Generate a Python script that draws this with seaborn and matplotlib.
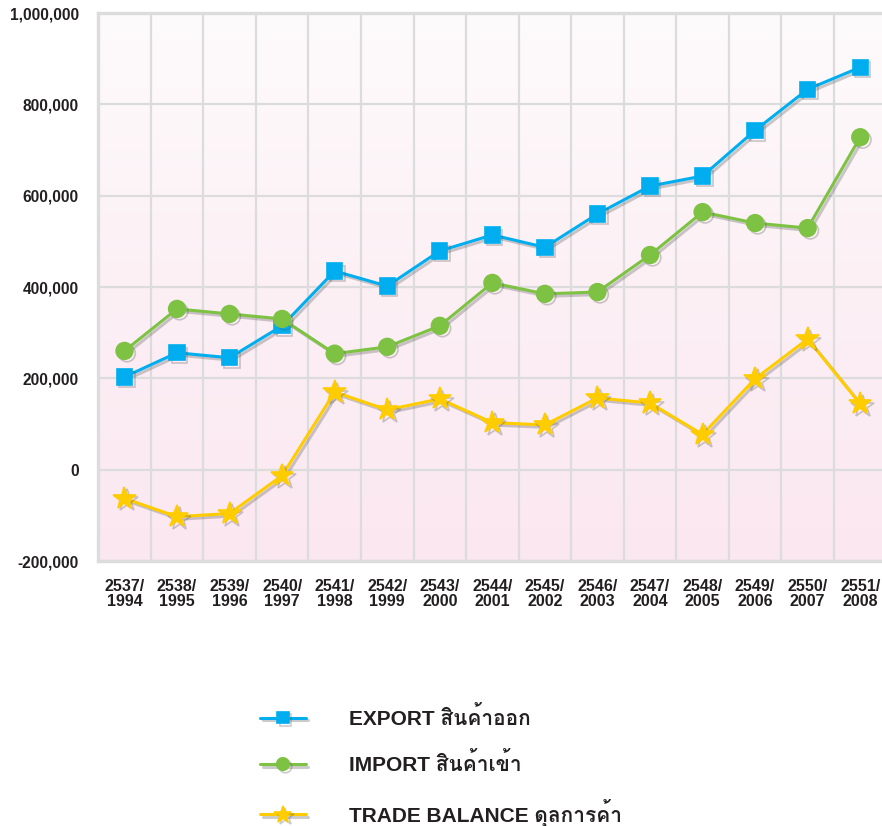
import numpy as np
import pandas as pd
import matplotlib
matplotlib.use("Agg")
import matplotlib.pyplot as plt
import matplotlib.patheffects as pe
from matplotlib import font_manager, ft2font
from matplotlib.colors import LinearSegmentedColormap
from matplotlib.ticker import FixedLocator, FuncFormatter
import seaborn as sns

# ---------------- data ----------------
years_be = ["2537", "2538", "2539", "2540", "2541", "2542", "2543", "2544",
            "2545", "2546", "2547", "2548", "2549", "2550", "2551"]
years_ce = ["1994", "1995", "1996", "1997", "1998", "1999", "2000", "2001",
            "2002", "2003", "2004", "2005", "2006", "2007", "2008"]
export_vals = [203000, 256000, 245000, 315000, 435000, 402000, 479000, 514000,
               487000, 560000, 621000, 643000, 743000, 833000, 881000]
import_vals = [260000, 352000, 341000, 330000, 254000, 269000, 315000, 409000,
               385000, 389000, 470000, 564000, 540000, 529000, 728000]
balance_vals = [-63000, -103000, -96000, -13000, 170000, 131000, 155000, 103000,
                98000, 157000, 146000, 77000, 199000, 286000, 144000]
series_labels = ["EXPORT สินค้าออก", "IMPORT สินค้าเข้า", "TRADE BALANCE ดุลการค้า"]
y_ticks = [-200000, 0, 200000, 400000, 600000, 800000, 1000000]

# ---------------- fonts ----------------
sns.set_theme(style="white")
thai_fams = []
for f in font_manager.fontManager.ttflist:
    try:
        cm = ft2font.FT2Font(f.fname).get_charmap()
        if 0x0E2A in cm and 0x0E49 in cm and 0x0E14 in cm:
            if f.name not in thai_fams:
                thai_fams.append(f.name)
    except Exception:
        pass
plt.rcParams["font.family"] = ["Liberation Sans"] + thai_fams + ["DejaVu Sans"]
plt.rcParams["font.weight"] = "bold"

text_color = "#231f20"
grid_color = "#dcdcdc"

fig = plt.figure(figsize=(8.82, 8.26), dpi=100)
ax = fig.add_axes([98.2 / 882, 1 - 561 / 826, 788.3 / 882, 548 / 826])

# background gradient
bg = LinearSegmentedColormap.from_list("bg", ["#fefbfc", "#fcf0f5", "#fbe7f0"])
ax.imshow(np.linspace(0, 1, 256).reshape(-1, 1), cmap=bg, extent=[0, 1, 0, 1],
          transform=ax.transAxes, aspect="auto", zorder=0)

df = pd.DataFrame({
    "x": np.arange(len(years_be)),
    "export": export_vals,
    "import": import_vals,
    "balance": balance_vals,
})

styles = [
    ("export", "#00aeef", "s", 11, series_labels[0]),
    ("import", "#7dc242", "o", 12, series_labels[1]),
    ("balance", "#ffcc00", "*", 17, series_labels[2]),
]
shadow = [pe.SimpleLineShadow(offset=(1.8, -1.8), shadow_color="#555555", alpha=0.3),
          pe.Normal()]
for col, color, marker, ms, label in styles:
    sns.lineplot(data=df, x="x", y=col, ax=ax, color=color, marker=marker,
                 markersize=ms, markeredgecolor=color, markeredgewidth=1.2,
                 linewidth=2.2, label=label, zorder=3)

for line in ax.get_lines():
    line.set_path_effects(shadow)

ax.set_xlim(-0.5, len(years_be) - 0.5)
ax.set_ylim(-200000, 1000000)

ax.xaxis.set_major_locator(FixedLocator(np.arange(len(years_be))))
ax.set_xticklabels([f"{a}/\n{b}" for a, b in zip(years_be, years_ce)],
                   linespacing=1.0)
ax.xaxis.set_minor_locator(FixedLocator(np.arange(len(years_be) - 1) + 0.5))
ax.yaxis.set_major_locator(FixedLocator(y_ticks))
ax.yaxis.set_major_formatter(FuncFormatter(lambda v, p: f"{int(v):,}"))

ax.grid(False)
ax.grid(True, which="minor", axis="x", color=grid_color, linewidth=1.6, zorder=1)
ax.grid(True, which="major", axis="y", color=grid_color, linewidth=1.6, zorder=1)
ax.set_axisbelow(True)

ax.tick_params(axis="both", which="both", length=0)
ax.tick_params(axis="y", labelsize=11.2, pad=14, labelcolor=text_color)
ax.tick_params(axis="x", labelsize=11.5, pad=13, labelcolor=text_color)
for t in ax.get_xticklabels() + ax.get_yticklabels():
    t.set_fontweight("bold")

ax.set_xlabel("")
ax.set_ylabel("")
for side in ["top", "left", "bottom"]:
    ax.spines[side].set_color(grid_color)
    ax.spines[side].set_linewidth(2.4)
ax.spines["right"].set_visible(False)

handles, labels = ax.get_legend_handles_labels()
if ax.get_legend() is not None:
    ax.get_legend().remove()
leg = fig.legend(handles, labels, loc="upper left",
                 bbox_to_anchor=(260 / 882, 1 - 706 / 826), frameon=False,
                 fontsize=15, handlelength=2.2, handletextpad=2.05,
                 labelspacing=1.12, borderpad=0, borderaxespad=0,
                 markerscale=0.75)
for t in leg.get_texts():
    t.set_color(text_color)
    t.set_fontweight("bold")

fig.savefig("out.png", dpi=100)
